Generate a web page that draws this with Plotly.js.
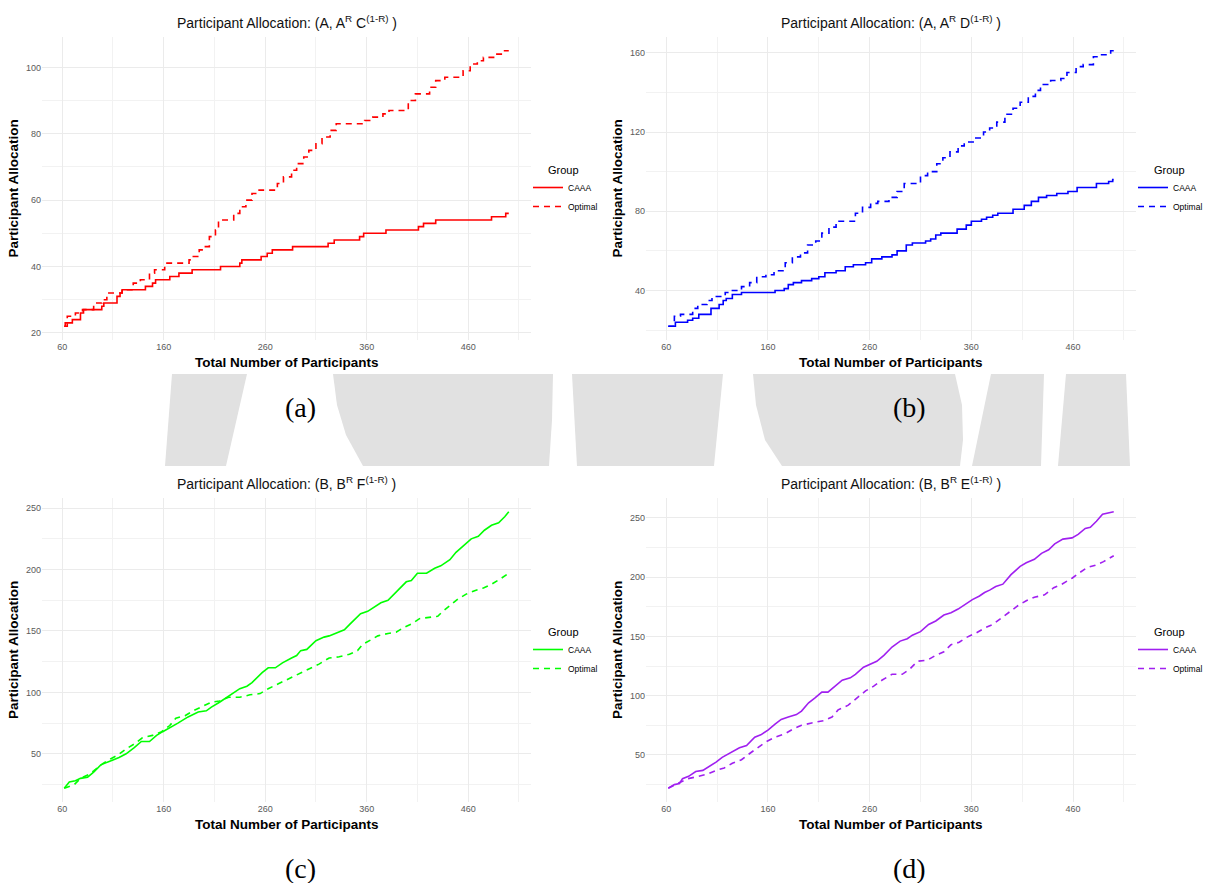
<!DOCTYPE html>
<html><head><meta charset="utf-8">
<script src="https://cdn.plot.ly/plotly-3.0.1.min.js"></script>
<style>html,body{margin:0;padding:0;background:#fff;}#chart{width:1207px;height:883px;}</style>
</head><body><div id="chart"></div>
<script>
// ---------- DATA ----------
const seriesNames = ['CAAA', 'Optimal'];
const legendTitle = 'Group';
const panelLabels = ['(a)', '(b)', '(c)', '(d)'];
const panelTitles = [
  'Participant Allocation: (A, A<sup>R</sup> C<sup>(1-R)</sup> )',
  'Participant Allocation: (A, A<sup>R</sup> D<sup>(1-R)</sup> )',
  'Participant Allocation: (B, B<sup>R</sup> F<sup>(1-R)</sup> )',
  'Participant Allocation: (B, B<sup>R</sup> E<sup>(1-R)</sup> )'
];
const xTickVals = [60, 160, 260, 360, 460];

// Panel (a)
const aCaaaX = [62,63,70,78,81,99,101,114,117,119,142,149,152,166,175,188,216,235,237,256,262,267,287,322,328,353,357,379,411,416,428,483,497,500];
const aCaaaY = [22,23,24,26,27,28,29,31,32,33,34,35,36,37,38,39,40,41,42,43,44,45,46,47,48,49,50,51,52,53,54,55,56,56];
const aOptX = [62,65,73,80,91,99,104,119,130,137,146,151,161,185,188,195,200,205,211,214,229,235,241,247,254,272,278,286,291,298,303,310,316,324,330,358,366,376,382,401,408,422,428,437,455,462,469,475,486,495,500];
const aOptY = [22,25,26,27,29,30,32,33,35,36,38,39,41,42,43,45,46,49,51,54,56,58,60,62,63,65,67,69,71,73,75,77,79,81,83,84,85,86,87,90,92,94,96,97,99,101,102,103,104,105,105];

// Panel (b)
const bCaaaX = [62,69,81,86,92,104,112,116,119,125,134,167,176,180,185,193,203,210,216,227,236,244,256,262,272,282,287,296,302,315,320,325,330,346,355,360,370,375,381,386,401,412,419,426,434,444,455,464,483,495,499,500];
const bCaaaY = [22,24,25,26,28,31,33,35,36,38,39,40,41,43,44,45,46,47,49,50,52,53,54,56,57,58,60,63,64,65,66,68,69,71,73,75,76,77,78,79,81,83,85,87,88,89,90,92,94,95,96,96];
const bOptX = [62,68,74,86,91,100,105,118,124,134,142,149,158,166,177,184,192,199,207,213,220,227,246,253,261,268,279,287,294,310,317,326,332,339,347,353,363,372,378,385,393,401,408,416,423,428,438,448,454,463,470,480,487,497,500];
const bOptY = [22,27,28,31,33,35,37,39,40,42,44,47,48,50,54,57,59,63,65,69,72,75,79,82,84,85,87,90,94,98,100,104,107,110,113,115,117,120,122,125,129,132,135,138,141,144,146,147,150,153,154,158,159,161,161];

// Panel (c)
const cCaaaX = [62,67,73,78,85,91,98,105,110,116,123,131,138,146,153,159,166,174,184,194,202,207,215,222,229,235,242,247,257,263,270,277,286,291,295,301,310,318,323,329,338,344,354,361,367,374,381,387,394,399,404,410,419,427,433,442,448,457,463,470,476,483,490,496,500];
const cCaaaY = [22,27,28,30,31,35,41,43,45,47,50,55,60,60,65,68,71,75,80,84,85,88,92,96,100,103,105,108,116,120,120,124,128,130,134,135,142,145,146,148,151,156,164,166,169,173,175,180,186,190,191,197,197,201,203,208,214,221,225,227,232,236,238,243,247];
const cOptX = [62,72,78,86,91,100,108,115,123,131,139,149,158,166,172,181,189,197,207,215,224,235,245,255,263,273,283,293,303,313,323,333,343,351,356,362,371,381,389,397,405,412,422,430,435,442,450,458,467,475,483,491,500];
const cOptY = [22,25,30,33,36,42,46,49,54,58,63,65,68,73,79,81,85,88,92,93,96,96,98,99,103,107,111,115,119,123,128,129,131,134,139,142,146,148,149,153,156,160,161,162,166,171,176,180,183,185,188,192,197];

// Panel (d)
const dCaaaX = [62,68,73,76,82,89,96,102,109,115,124,132,139,147,153,160,167,173,180,188,193,200,206,213,219,226,233,241,246,254,262,267,274,282,290,297,302,310,318,325,333,340,347,355,361,368,373,378,384,391,399,408,414,422,429,436,442,450,459,465,472,477,483,489,497,500];
const dCaaaY = [22,25,26,30,32,36,37,40,44,48,52,56,58,65,67,71,76,80,82,84,87,94,98,103,103,108,113,115,118,124,127,129,134,141,146,148,151,154,160,163,168,170,173,178,181,184,187,189,192,194,202,209,212,215,220,223,228,232,233,236,241,242,247,253,254,255];
const dOptX = [62,71,81,92,101,109,117,125,134,140,150,158,167,177,185,193,203,215,223,229,239,248,256,264,272,282,292,299,307,317,325,333,340,348,355,365,373,381,389,398,406,414,422,432,441,449,459,467,474,482,490,500];
const dOptY = [22,26,30,32,34,37,39,43,46,50,56,61,65,68,72,75,77,79,82,88,92,98,104,108,113,118,118,122,129,130,134,137,143,145,149,153,157,160,165,171,176,180,183,185,191,194,199,204,208,210,213,218];

// ---------- LAYOUT HELPERS ----------
const W = 1207, H = 883;
const px = x => x / W, py = y => 1 - y / H;
const SANS = '"Liberation Sans", Arial, sans-serif';
const SERIF = '"Liberation Serif", "Times New Roman", serif';

const panels = [
  {xs:[aCaaaX,aOptX], ys:[aCaaaY,aOptY], color:'#FF0000', shape:'hv', box:[42,37,531,340], ydt:20, label:[300,407], leg:[528,173], grp:[546,170]},
  {xs:[bCaaaX,bOptX], ys:[bCaaaY,bOptY], color:'#0000FF', shape:'hv', box:[646,37,1136,340], ydt:40, label:[909,407], leg:[1133,173], grp:[1152,170]},
  {xs:[cCaaaX,cOptX], ys:[cCaaaY,cOptY], color:'#00FF00', shape:'linear', box:[42,498,531,802], ydt:50, label:[300,868], leg:[528,635], grp:[546,632]},
  {xs:[dCaaaX,dOptX], ys:[dCaaaY,dOptY], color:'#A020F0', shape:'linear', box:[646,498,1136,802], ydt:50, label:[909,868], leg:[1133,635], grp:[1152,632]}
];

function expand(arrs){
  let mn = Infinity, mx = -Infinity;
  arrs.forEach(a => a.forEach(v => { if (v < mn) mn = v; if (v > mx) mx = v; }));
  const d = (mx - mn) * 0.05;
  return [mn - d, mx + d];
}

const data = [];
const layout = {
  width: W, height: H,
  margin: {l:0, r:0, t:0, b:0, autoexpand:false},
  paper_bgcolor: '#ffffff', plot_bgcolor: '#ffffff',
  font: {family: SANS, color: '#000'},
  showlegend: true,
  annotations: [], shapes: []
};

panels.forEach((p, i) => {
  const n = i + 1;
  const xa = 'x' + (n === 1 ? '' : n), ya = 'y' + (n === 1 ? '' : n);
  const legKey = 'legend' + (n === 1 ? '' : n);
  seriesNames.forEach((name, s) => {
    data.push({
      type: 'scatter', mode: 'lines', name: name,
      x: p.xs[s], y: p.ys[s], xaxis: xa, yaxis: ya, legend: legKey,
      line: {color: p.color, width: 1.6, shape: p.shape, dash: s === 0 ? 'solid' : '6px,5px'},
      hoverinfo: 'x+y+name'
    });
  });
  const [x0, y0, x1, y1] = p.box;
  layout['xaxis' + (n === 1 ? '' : n)] = {
    domain: [px(x0), px(x1)], anchor: ya, range: expand(p.xs),
    tickmode: 'array', tickvals: xTickVals, ticktext: xTickVals.map(String),
    showgrid: true, gridcolor: '#EBEBEB', gridwidth: 1.1,
    minor: {tickmode: 'linear', tick0: 60, dtick: 50, showgrid: true, gridcolor: '#F2F2F2', gridwidth: 0.7},
    zeroline: false, showline: false, ticks: '', automargin: false,
    tickfont: {size: 9, color: '#5a5a5a', family: SANS}, fixedrange: true
  };
  layout['yaxis' + (n === 1 ? '' : n)] = {
    domain: [py(y1), py(y0)], anchor: xa, range: expand(p.ys),
    tickmode: 'linear', tick0: 0, dtick: p.ydt,
    showgrid: true, gridcolor: '#EBEBEB', gridwidth: 1.1,
    minor: {tickmode: 'linear', tick0: 0, dtick: p.ydt / 2, showgrid: true, gridcolor: '#F2F2F2', gridwidth: 0.7},
    zeroline: false, showline: false, ticks: '', automargin: false,
    tickfont: {size: 9, color: '#5a5a5a', family: SANS}, fixedrange: true
  };
  layout[legKey] = {
    x: px(p.leg[0]), y: py(p.leg[1]), xanchor: 'left', yanchor: 'top',
    bgcolor: 'rgba(0,0,0,0)', borderwidth: 0, tracegroupgap: 0,
    font: {size: 8.5, family: SANS, color: '#000'}
  };
  // legend heading
  layout.annotations.push({xref:'paper', yref:'paper', x: px(p.grp[0]), y: py(p.grp[1]), xanchor:'left', yanchor:'middle',
    text: legendTitle, showarrow:false, font:{size:11, family:SANS, color:'#000'}});
  const cx = (x0 + x1) / 2, cy = (y0 + y1) / 2;
  // panel title
  layout.annotations.push({xref:'paper', yref:'paper', x: px(cx), y: py(y0 - 15), xanchor:'center', yanchor:'middle',
    text: panelTitles[i], showarrow:false, font:{size:14, family:SANS, color:'#111'}});
  // x-axis title
  layout.annotations.push({xref:'paper', yref:'paper', x: px(cx), y: py(y1 + 22), xanchor:'center', yanchor:'middle',
    text: '<b>Total Number of Participants</b>', showarrow:false, font:{size:13.5, family:SANS, color:'#000'}});
  // y-axis title
  layout.annotations.push({xref:'paper', yref:'paper', x: px(x0 - 29), y: py(cy), xanchor:'center', yanchor:'middle',
    text: '<b>Participant Allocation</b>', textangle: -90, showarrow:false, font:{size:13.5, family:SANS, color:'#000'}});
  // sub-figure label
  layout.annotations.push({xref:'paper', yref:'paper', x: px(p.label[0]), y: py(p.label[1]), xanchor:'center', yanchor:'middle',
    text: panelLabels[i], showarrow:false, font:{size:28, family:SERIF, color:'#000'}});
});

// faint watermark visible between the sub-figures
const wmPolys = [
  [[172,374],[247,374],[226,466],[165,466]],
  [[333,374],[553,374],[552,420],[549,466],[363,466],[346,435],[337,405]],
  [[572,374],[723,374],[714,466],[577,466]],
  [[753,374],[955,374],[962,405],[963,440],[960,466],[782,466],[765,440],[756,405]],
  [[991,374],[1044,374],[1041,466],[972,466]],
  [[1066,374],[1126,374],[1130,466],[1058,466]]
];
wmPolys.forEach(poly => {
  const path = poly.map((pt, k) => (k ? 'L' : 'M') + px(pt[0]).toFixed(5) + ',' + py(pt[1]).toFixed(5)).join(' ') + ' Z';
  layout.shapes.push({type:'path', xref:'paper', yref:'paper', path: path, fillcolor:'#E1E1E1', line:{width:0}, layer:'below'});
});

Plotly.newPlot('chart', data, layout, {displayModeBar: false});
</script>
</body></html>
